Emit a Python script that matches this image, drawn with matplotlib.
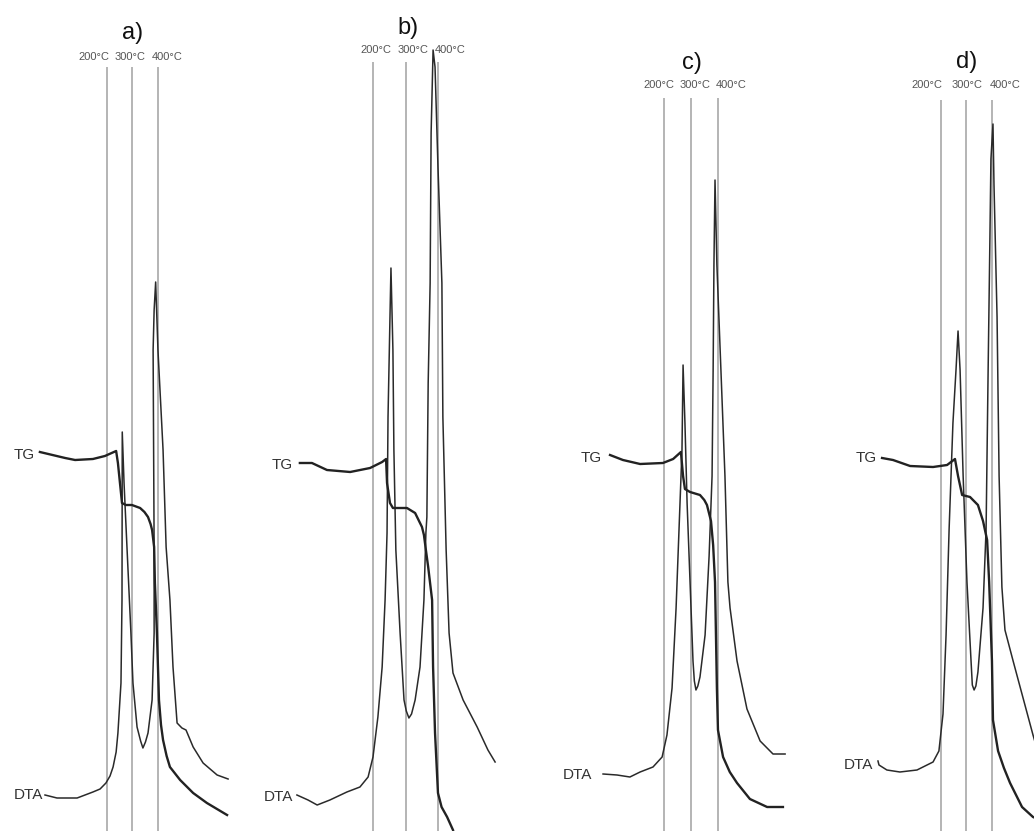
import matplotlib
matplotlib.use("Agg")
import matplotlib.pyplot as plt

plt.rcParams['font.family'] = ['Liberation Sans', 'DejaVu Sans']

# temperatures (°C) and signals (a.u.)
panels = ["a)", "b)", "c)", "d)"]
marks = [200, 300, 400]

tg_a_t = [-62, 37, 76, 146, 193, 237, 244, 252, 260, 275, 299, 331, 348, 362, 372, 378, 386, 389, 397, 405, 413, 421, 435, 448, 488, 539, 593, 672]
tg_a_s = [37.9, 37.3, 37.1, 37.2, 37.5, 38.0, 36.8, 34.8, 32.8, 32.6, 32.6, 32.3, 31.9, 31.4, 30.7, 30.1, 28.4, 24.8, 19.8, 13.1, 10.6, 9.1, 7.5, 6.4, 5.1, 3.8, 2.8, 1.6]
dta_a_t = [-42, 5, 84, 146, 174, 197, 213, 225, 237, 244, 256, 260, 261, 268, 280, 295, 303, 319, 333, 342, 352, 362, 378, 386, 386,
           382, 386, 392, 401, 421, 433, 448, 460, 476, 495, 511, 539, 578, 633, 676]
dta_a_s = [3.6, 3.3, 3.3, 3.9, 4.2, 4.8, 5.5, 6.4, 7.9, 9.8, 14.8, 23.1, 39.9, 34.8, 28.1, 19.8, 14.8, 10.4, 9.0, 8.3, 8.9, 9.8, 13.1, 19.8, 28.1,
           48.1, 52.1, 54.9, 48.1, 38.1, 28.4, 23.1, 16.4, 10.8, 10.3, 10.1, 8.4, 6.8, 5.6, 5.2]

tg_b_t = [-24, 13, 59, 130, 191, 228, 240, 243, 252, 261, 304, 329, 350, 356, 362, 369, 381, 384, 390, 399, 410, 427, 445]
tg_b_s = [36.8, 36.8, 36.1, 35.9, 36.3, 36.9, 37.2, 34.8, 32.8, 32.3, 32.3, 31.8, 30.4, 29.6, 28.1, 26.4, 23.1, 16.4, 9.8, 3.8, 2.4, 1.4, 0.1]
dta_b_t = [-33, 1, 29, 68, 120, 160, 185, 200, 215, 228, 237, 243, 246, 252, 255, 261, 264, 270, 283, 295, 302, 310, 318,
           329, 344, 356, 362, 365, 369, 375, 378, 384, 390, 399, 411, 414, 424, 433, 445, 476, 519, 552, 574]
dta_b_s = [3.6, 3.1, 2.6, 3.1, 3.9, 4.4, 5.4, 7.4, 11.4, 16.4, 23.1, 29.8, 41.4, 51.4, 56.3, 48.1, 38.1, 28.1, 19.8, 13.1, 12.0, 11.3, 11.7,
           13.1, 16.4, 23.1, 29.8, 31.4, 44.8, 54.8, 69.8, 78.1, 76.4, 66.4, 54.8, 41.4, 28.1, 19.8, 15.8, 13.1, 10.4, 8.1, 6.9]

tg_c_t = [-1, 47, 111, 196, 234, 263, 271, 278, 297, 334, 350, 360, 375, 383, 390, 397, 401, 420, 445, 472, 520, 584, 643]
tg_c_s = [37.6, 37.1, 36.7, 36.8, 37.2, 37.9, 35.5, 34.2, 33.9, 33.6, 33.1, 32.6, 31.0, 28.6, 24.9, 14.3, 10.1, 7.4, 5.9, 4.8, 3.2, 2.4, 2.4]
dta_c_t = [-27, 25, 73, 111, 159, 193, 211, 230, 245, 256, 267, 271, 278, 286, 297, 308, 313, 319, 326, 334, 353, 368, 379,
           383, 386, 390, 397, 412, 427, 438, 446, 472, 509, 558, 606, 651]
dta_c_s = [5.7, 5.6, 5.4, 5.9, 6.4, 7.4, 9.6, 14.3, 22.3, 30.2, 38.1, 46.6, 40.8, 32.8, 24.9, 17.0, 15.0, 14.1, 14.5, 15.4, 19.6, 27.5, 35.5,
           46.1, 56.6, 65.1, 56.6, 46.1, 35.5, 24.9, 22.3, 17.0, 12.2, 9.0, 7.7, 7.7]

tg_d_t = [-30, 13, 80, 170, 225, 256, 268, 284, 315, 346, 366, 382, 390, 401, 405, 425, 448, 472, 519, 562, 609]
tg_d_s = [37.3, 37.1, 36.5, 36.4, 36.6, 37.2, 35.5, 33.6, 33.4, 32.6, 31.0, 29.1, 24.9, 17.0, 11.1, 8.0, 6.3, 4.8, 2.4, 1.4, 0.9]
dta_d_t = [-46, -42, -11, 40, 107, 170, 193, 209, 221, 233, 248, 260, 268, 276, 288, 303, 319, 324, 331, 338, 346, 366, 378,
           386, 393, 397, 405, 409, 421, 429, 440, 452, 484, 523, 562, 590]
dta_d_s = [7.0, 6.6, 6.1, 5.9, 6.1, 6.9, 8.0, 11.7, 19.6, 30.2, 40.8, 46.1, 50.0, 46.1, 35.5, 24.9, 17.0, 14.6, 14.1, 14.5, 15.9, 22.3, 30.2,
           46.1, 59.3, 67.2, 70.7, 64.6, 51.4, 35.5, 24.4, 20.1, 17.0, 13.3, 9.6, 7.1]

tg_t = [tg_a_t, tg_b_t, tg_c_t, tg_d_t]
tg_s = [tg_a_s, tg_b_s, tg_c_s, tg_d_s]
dta_t = [dta_a_t, dta_b_t, dta_c_t, dta_d_t]
dta_s = [dta_a_s, dta_b_s, dta_c_s, dta_d_s]

# layout (pixels): where 200 and 400 °C sit in each panel
W, H = 1034, 831
x200 = [106.7, 373.0, 664.0, 940.7]
x400 = [157.7, 438.3, 717.7, 991.7]
line_top = [76.4, 76.9, 73.3, 73.1]
title_pos = [(300, 79.8), (307, 80.3), (304, 76.8), (303, 76.9)]
lab_t = [[150, 291, 436], [209, 322, 436], [181, 315, 450], [146, 303, 452]]
lab_y = [77.4, 78.1, 74.6, 74.6]
tg_lab = [(-81, 37.6), (-45, 36.6), (-31, 37.3), (-50, 37.3)]
dta_lab = [(-50, 3.6), (-45, 3.4), (-68, 5.6), (-66, 6.6)]

fig = plt.figure(figsize=(W / 100, H / 100), dpi=100)

for i in range(4):
    ax = fig.add_axes([0, 0, 1, 1])
    ax.patch.set_alpha(0)
    k = (x400[i] - x200[i]) / 200.0
    ax.set_xlim(200 - x200[i] / k, 200 + (W - x200[i]) / k)
    ax.set_ylim(0, H / 10)
    ax.axis('off')

    ax.vlines(marks, 0, line_top[i], color='#a0a0a0', lw=1.1)
    ax.plot(dta_t[i], dta_s[i], color='#2a2a2a', lw=1.1)
    ax.plot(tg_t[i], tg_s[i], color='#222222', lw=1.7)

    ax.text(title_pos[i][0], title_pos[i][1], panels[i], ha='center', va='center', fontsize=17, color='#111111')
    for t, m in zip(lab_t[i], marks):
        ax.text(t, lab_y[i], f"{m}°C", ha='center', va='center', fontsize=8, color='#555555')
    ax.text(tg_lab[i][0], tg_lab[i][1], "TG", ha='right', va='center', fontsize=11, color='#333333')
    ax.text(dta_lab[i][0], dta_lab[i][1], "DTA", ha='right', va='center', fontsize=11, color='#333333')

fig.savefig("out.png", dpi=100, facecolor='white')
